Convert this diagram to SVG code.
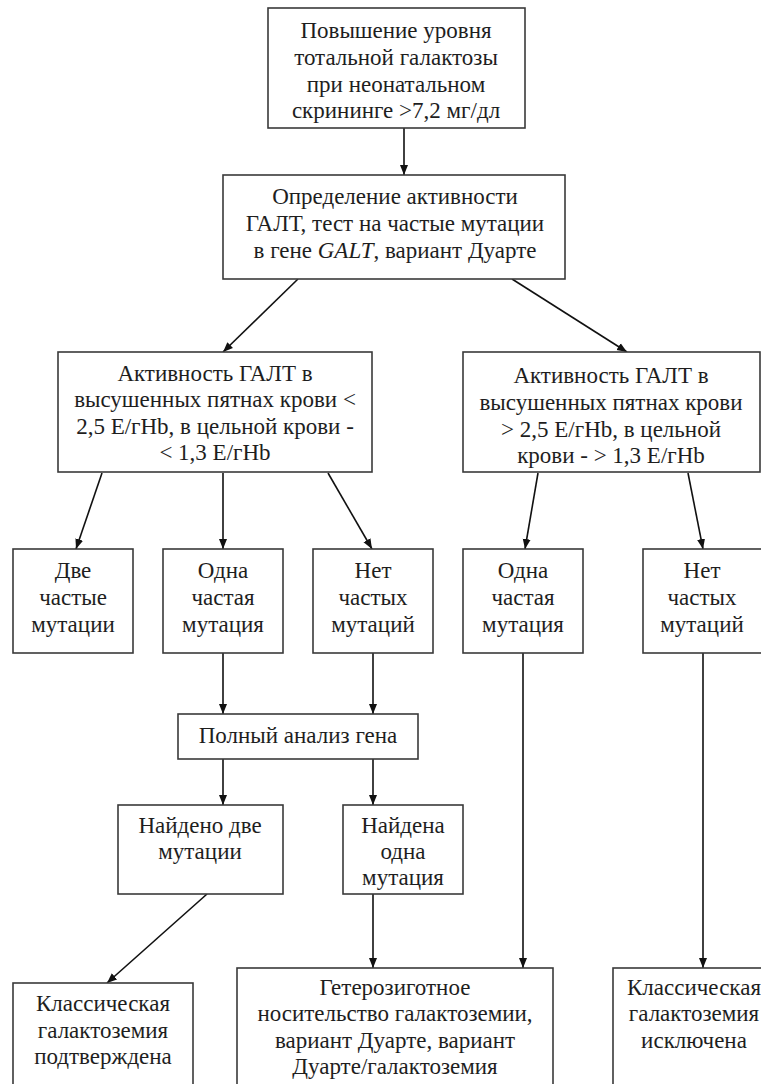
<svg xmlns="http://www.w3.org/2000/svg" width="761" height="1084" viewBox="0 0 761 1084">
<style>
.box{fill:#fff;stroke:#3a3a3a;stroke-width:1.6}
.t{font-family:'Liberation Serif','DejaVu Serif','Noto Serif',serif;font-size:23px;fill:#1e1e1e;text-anchor:middle}
.c{stroke:#111;stroke-width:1.6;fill:none;marker-end:url(#ah)}
</style>
<defs>
<marker id="ah" viewBox="0 0 10 10" refX="10" refY="5" markerWidth="10" markerHeight="10" markerUnits="userSpaceOnUse" orient="auto">
<path d="M0,1 L10,5 L0,9 z" fill="#111"/>
</marker>
</defs>
<rect width="761" height="1084" fill="#fff"/>
<g id="connectors">
<line class="c" x1="404" y1="128" x2="404" y2="175"/>
<line class="c" x1="298" y1="279" x2="223" y2="352"/>
<line class="c" x1="512" y1="279" x2="627" y2="352"/>
<line class="c" x1="102" y1="473" x2="76" y2="549"/>
<line class="c" x1="223" y1="473" x2="223" y2="549"/>
<line class="c" x1="328" y1="473" x2="372" y2="549"/>
<line class="c" x1="538" y1="473" x2="525" y2="549"/>
<line class="c" x1="688" y1="473" x2="703" y2="549"/>
<line class="c" x1="223" y1="653" x2="223" y2="714"/>
<line class="c" x1="373" y1="653" x2="373" y2="714"/>
<line class="c" x1="223" y1="759" x2="223" y2="805"/>
<line class="c" x1="373" y1="759" x2="373" y2="805"/>
<line class="c" x1="207" y1="894" x2="107" y2="983"/>
<line class="c" x1="373" y1="894" x2="373" y2="968"/>
<line class="c" x1="523" y1="653" x2="523" y2="968"/>
<line class="c" x1="703" y1="653" x2="703" y2="968"/>
</g>
<g id="n1">
<rect class="box" x="268" y="8" width="257" height="120"/>
<text class="t" x="396" y="38">Повышение уровня</text>
<text class="t" x="396" y="65">тотальной галактозы</text>
<text class="t" x="396" y="92">при неонатальном</text>
<text class="t" x="396" y="118">скрининге &gt;7,2 мг/дл</text>
</g>
<g id="n2">
<rect class="box" x="223" y="175" width="342" height="104"/>
<text class="t" x="395" y="204">Определение активности</text>
<text class="t" x="395" y="231">ГАЛТ, тест на частые мутации</text>
<text class="t" x="395" y="258">в гене <tspan font-style="italic">GALT</tspan>, вариант Дуарте</text>
</g>
<g id="n3">
<rect class="box" x="58" y="352" width="314" height="120"/>
<text class="t" x="215" y="381">Активность ГАЛТ в</text>
<text class="t" x="215" y="407">высушенных пятнах крови &lt;</text>
<text class="t" x="215" y="434">2,5 Е/гНb, в цельной крови -</text>
<text class="t" x="215" y="460">&lt; 1,3 Е/гНb</text>
</g>
<g id="n4">
<rect class="box" x="463" y="352" width="297" height="120"/>
<text class="t" x="611" y="383">Активность ГАЛТ в</text>
<text class="t" x="611" y="410">высушенных пятнах крови</text>
<text class="t" x="611" y="437">&gt; 2,5 Е/гНb, в цельной</text>
<text class="t" x="611" y="463">крови - &gt; 1,3 Е/гНb</text>
</g>
<g id="n5">
<rect class="box" x="13" y="549" width="120" height="104"/>
<text class="t" x="73" y="578">Две</text>
<text class="t" x="73" y="605">частые</text>
<text class="t" x="73" y="632">мутации</text>
</g>
<g id="n6">
<rect class="box" x="163" y="549" width="120" height="104"/>
<text class="t" x="223" y="578">Одна</text>
<text class="t" x="223" y="605">частая</text>
<text class="t" x="223" y="632">мутация</text>
</g>
<g id="n7">
<rect class="box" x="313" y="549" width="120" height="104"/>
<text class="t" x="373" y="578">Нет</text>
<text class="t" x="373" y="605">частых</text>
<text class="t" x="373" y="632">мутаций</text>
</g>
<g id="n8">
<rect class="box" x="463" y="549" width="120" height="104"/>
<text class="t" x="523" y="578">Одна</text>
<text class="t" x="523" y="605">частая</text>
<text class="t" x="523" y="632">мутация</text>
</g>
<g id="n9">
<rect class="box" x="643" y="549" width="119" height="104"/>
<text class="t" x="702" y="578">Нет</text>
<text class="t" x="702" y="605">частых</text>
<text class="t" x="702" y="632">мутаций</text>
</g>
<g id="n10">
<rect class="box" x="178" y="714" width="240" height="45"/>
<text class="t" x="298" y="743">Полный анализ гена</text>
</g>
<g id="n11">
<rect class="box" x="118" y="805" width="165" height="89"/>
<text class="t" x="200" y="833">Найдено две</text>
<text class="t" x="200" y="859">мутации</text>
</g>
<g id="n12">
<rect class="box" x="343" y="805" width="120" height="89"/>
<text class="t" x="403" y="833">Найдена</text>
<text class="t" x="403" y="859">одна</text>
<text class="t" x="403" y="885">мутация</text>
</g>
<g id="n13">
<rect class="box" x="13" y="983" width="180" height="120"/>
<text class="t" x="103" y="1011">Классическая</text>
<text class="t" x="103" y="1038">галактоземия</text>
<text class="t" x="103" y="1064">подтверждена</text>
</g>
<g id="n14">
<rect class="box" x="237" y="968" width="316" height="130"/>
<text class="t" x="395" y="995">Гетерозиготное</text>
<text class="t" x="395" y="1021">носительство галактоземии,</text>
<text class="t" x="395" y="1048">вариант Дуарте, вариант</text>
<text class="t" x="395" y="1074">Дуарте/галактоземия</text>
</g>
<g id="n15">
<rect class="box" x="613" y="968" width="163" height="130"/>
<text class="t" x="694" y="995">Классическая</text>
<text class="t" x="694" y="1021">галактоземия</text>
<text class="t" x="694" y="1048">исключена</text>
</g>
</svg>
